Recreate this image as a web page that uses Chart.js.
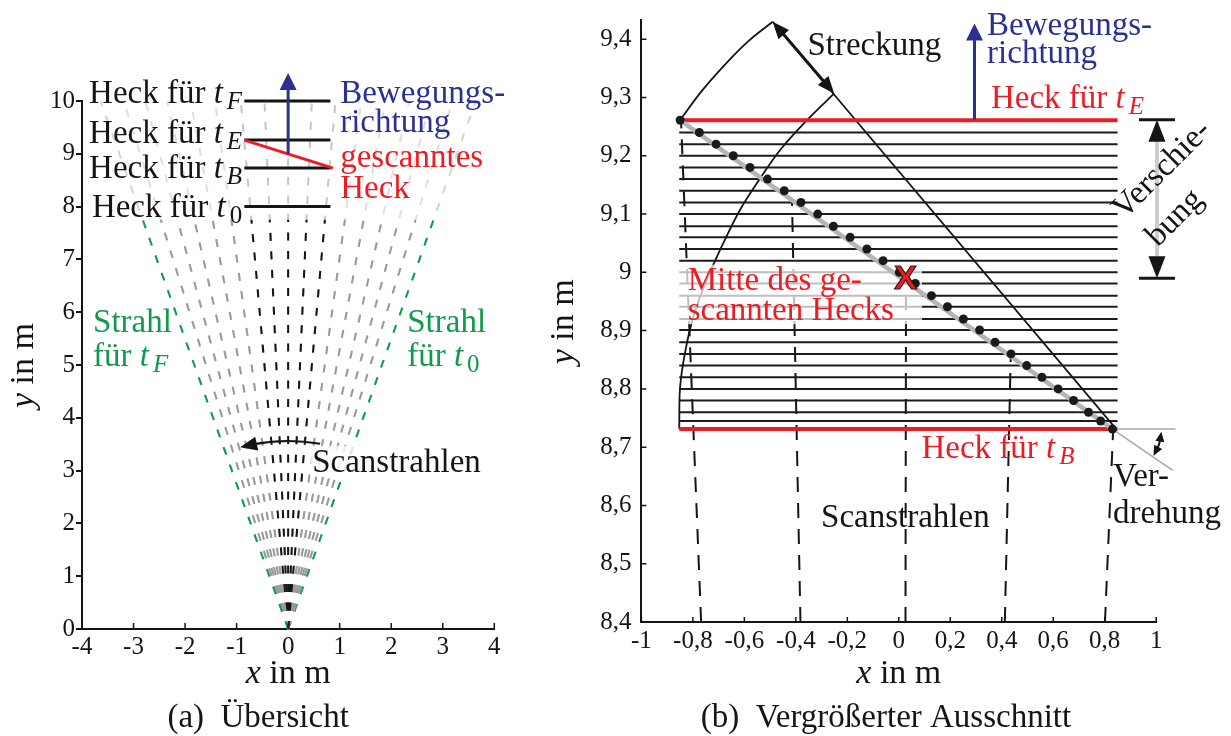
<!DOCTYPE html>
<html>
<head>
<meta charset="utf-8">
<script src="https://cdn.jsdelivr.net/npm/chart.js@4.4.1/dist/chart.umd.min.js"></script>
<style>
html, body { margin: 0; padding: 0; background: #fff; }
#wrap { position: relative; width: 1231px; height: 736px; overflow: hidden; }
#chartA { position: absolute; left: 0; top: 0; }
#chartB { position: absolute; left: 530px; top: 0; }
</style>
</head>
<body>
<div id="wrap">
  <canvas id="chartA" width="530" height="736"></canvas>
  <canvas id="chartB" width="701" height="736"></canvas>
</div>
<script>
const FONT = '"Liberation Serif", "Times New Roman", serif';
const RED = '#ec1c24';
const BLUE = '#2b3192';
const GREEN = '#119a4c';
const INK = '#151515';

// ---- (a) Übersicht ----
const raySlopesA = [-0.364, -0.319, -0.277, -0.235, -0.189, -0.142, -0.092, -0.046, 0, 0.046, 0.092, 0.142, 0.189, 0.235, 0.277, 0.319, 0.364];
const rayKindsA = ['green', 'gray', 'gray', 'gray', 'gray', 'gray', 'black', 'black', 'black', 'black', 'black', 'gray', 'gray', 'gray', 'gray', 'gray', 'green'];
const rayFadeYA = 7.75;
const rayEndYA = 10;
const heckYA = [10, 9.26, 8.73, 8.0];
const heckSubA = ['F', 'E', 'B', '0'];
const heckXA = [-0.85, 0.82];
const scannedXA = [-0.85, 0.87];
const scannedYA = [9.26, 8.73];
const xTicksA = [-4, -3, -2, -1, 0, 1, 2, 3, 4];
const yTicksA = [0, 1, 2, 3, 4, 5, 6, 7, 8, 9, 10];

// ---- (b) Vergrößerter Ausschnitt ----
const dotsXB = [-0.849, -0.775, -0.710, -0.643, -0.578, -0.510, -0.445, -0.380, -0.315, -0.254, -0.189, -0.124, -0.061, 0.002,
                0.064, 0.127, 0.189, 0.251, 0.314, 0.374, 0.436, 0.497, 0.556, 0.619, 0.679, 0.737, 0.784, 0.830];
const dotsYB = [9.261, 9.240, 9.220, 9.200, 9.180, 9.160, 9.140, 9.120, 9.100, 9.079, 9.060, 9.040, 9.020, 9.000,
                8.981, 8.960, 8.941, 8.920, 8.901, 8.880, 8.860, 8.840, 8.820, 8.800, 8.780, 8.760, 8.745, 8.731];
const heckXB = [-0.853, 0.85];
const rayBottomXB = [-0.768, -0.382, 0.026, 0.412, 0.801];
const rayTopXB = [-0.846, -0.415, 0.028, 0.435, 0.833];
const rayTopYB = [9.26, 9.125, 8.986, 8.858, 8.733];
const upperArcXB = [-0.850, -0.762, -0.659, -0.581, -0.490];
const upperArcYB = [9.261, 9.313, 9.364, 9.398, 9.430];
const lowerArcXB = [-0.853, -0.850, -0.831, -0.798, -0.746, -0.682, -0.617, -0.539, -0.461, -0.357, -0.251];
const lowerArcYB = [8.731, 8.801, 8.861, 8.924, 8.987, 9.050, 9.107, 9.161, 9.210, 9.261, 9.307];
const radialXB = [-0.490, 0.845];
const radialYB = [9.430, 8.731];
const diagXB = [-0.865, 0.83];
const diagYB = [9.266, 8.731];
const twistXB = [0.83, 1.064];
const twistYB = [8.731, 8.66];
const levelXB = [0.83, 1.075];
const levelYB = [8.731, 8.731];
const xTicksB = [-1, -0.8, -0.6, -0.4, -0.2, 0, 0.2, 0.4, 0.6, 0.8, 1];
const xLabelsB = ['-1', '-0,8', '-0,6', '-0,4', '-0,2', '0', '0,2', '0,4', '0,6', '0,8', '1'];
const yTicksB = [8.4, 8.5, 8.6, 8.7, 8.8, 8.9, 9.0, 9.1, 9.2, 9.3, 9.4];
const yLabelsB = ['8,4', '8,5', '8,6', '8,7', '8,8', '8,9', '9', '9,1', '9,2', '9,3', '9,4'];

// ---------- helpers ----------
const pts = (xs, ys) => xs.map((x, i) => ({x: x, y: ys[i]}));
function line(xs, ys, color, width, extra) {
    return Object.assign({
        data: pts(xs, ys), borderColor: color, borderWidth: width,
        pointRadius: 0, showLine: true, clip: false, tension: 0, fill: false
    }, extra || {});
}
function font(size, italic, bold, fam) {
    return (italic ? 'italic ' : '') + (bold ? 'bold ' : '') + size + 'px ' + (fam || FONT);
}
// parts: [text, style] with style '' upright, 'i' italic, 's' subscript, 'si' italic subscript
function rich(ctx, parts, x, y, size, color, align, baseline) {
    const specs = parts.map((p, k) => {
        const sub = p[1].startsWith('s');
        const f = font(sub ? Math.round(size * 0.76) : size, p[1].endsWith('i'));
        ctx.font = f;
        // small italic correction before a subscript
        const next = parts[k + 1];
        const gap = (p[1] === 'i' && next && next[1].startsWith('s')) ? size * 0.12 : 0;
        return {t: p[0], f: f, dy: sub ? size * 0.17 : 0, w: ctx.measureText(p[0]).width + gap};
    });
    const total = specs.reduce((s, p) => s + p.w, 0);
    let cx = align === 'right' ? x - total : (align === 'center' ? x - total / 2 : x);
    ctx.fillStyle = color;
    ctx.textAlign = 'left';
    ctx.textBaseline = baseline || 'alphabetic';
    specs.forEach(p => { ctx.font = p.f; ctx.fillText(p.t, cx, y + p.dy); cx += p.w; });
}
function rotText(ctx, parts, x, y, size, color, deg, align, baseline) {
    ctx.save();
    ctx.translate(x, y);
    ctx.rotate(deg * Math.PI / 180);
    rich(ctx, parts, 0, 0, size, color, align, baseline);
    ctx.restore();
}
function head(ctx, from, tip, len, wid, color) {
    const a = Math.atan2(tip[1] - from[1], tip[0] - from[0]);
    ctx.save();
    ctx.translate(tip[0], tip[1]);
    ctx.rotate(a);
    ctx.beginPath();
    ctx.moveTo(0, 0);
    ctx.lineTo(-len, wid / 2);
    ctx.lineTo(-len, -wid / 2);
    ctx.closePath();
    ctx.fillStyle = color;
    ctx.fill();
    ctx.restore();
}
function arrow(ctx, a, b, o) {
    const ang = Math.atan2(b[1] - a[1], b[0] - a[0]);
    const ux = Math.cos(ang), uy = Math.sin(ang);
    const s = o.both ? [a[0] + ux * o.len * 0.8, a[1] + uy * o.len * 0.8] : a;
    const e = [b[0] - ux * o.len * 0.8, b[1] - uy * o.len * 0.8];
    ctx.strokeStyle = o.shaft || o.color;
    ctx.lineWidth = o.width;
    ctx.beginPath();
    ctx.moveTo(s[0], s[1]);
    ctx.lineTo(e[0], e[1]);
    ctx.stroke();
    head(ctx, a, b, o.len, o.wid, o.color);
    if (o.both) head(ctx, b, a, o.len, o.wid, o.color);
}
function inwardTicks(chart, xs, ys, len) {
    const ctx = chart.ctx, ca = chart.chartArea;
    ctx.strokeStyle = INK;
    ctx.lineWidth = 1.5;
    ctx.beginPath();
    xs.forEach(v => { const p = chart.scales.x.getPixelForValue(v); ctx.moveTo(p, ca.bottom); ctx.lineTo(p, ca.bottom - len); });
    ys.forEach(v => { const p = chart.scales.y.getPixelForValue(v); ctx.moveTo(ca.left, p); ctx.lineTo(ca.left + len, p); });
    ctx.stroke();
}
function scaleOpts(cfg) {
    return {
        type: 'linear', min: cfg.min, max: cfg.max,
        afterBuildTicks: s => { s.ticks = cfg.ticks.map(v => ({value: v})); },
        afterFit: s => {
            if (cfg.width) s.width = cfg.width;
            if (cfg.height) s.height = cfg.height;
            s.paddingLeft = 0; s.paddingRight = 0; s.paddingTop = 0; s.paddingBottom = 0;
        },
        grid: cfg.outTicks
            ? {display: true, drawOnChartArea: false, drawTicks: true, tickLength: 6, color: INK, lineWidth: 2}
            : {display: false, drawTicks: false},
        border: {display: true, color: INK, width: 2},
        ticks: {
            autoSkip: false, maxRotation: 0, padding: cfg.pad, color: INK,
            font: {family: FONT, size: 25},
            callback: (v, i) => cfg.labels[i]
        }
    };
}

// ---------- chart (a) ----------
const rayColors = {black: ['#141414', '#c6c6c6'], gray: ['#9a9a9a', '#dedede'], green: [GREEN, '#bde0c9']};
const dsA = [];
raySlopesA.forEach((k, i) => {
    const c = rayColors[rayKindsA[i]];
    dsA.push(line([0, k * rayEndYA], [0, rayEndYA], c[1], 2, {borderDash: [8, 10.5], order: 30}));
    dsA.push(line([0, k * rayFadeYA], [0, rayFadeYA], c[0], 2, {borderDash: [8, 10.5], order: 29}));
});
heckYA.forEach(y => dsA.push(line(heckXA, [y, y], INK, 3, {order: 5})));
dsA.push(line(scannedXA, scannedYA, RED, 3, {order: 4}));

const annotA = {
    id: 'annotA',
    afterDatasetsDraw(chart) {
        const ctx = chart.ctx;
        const P = (x, y) => [chart.scales.x.getPixelForValue(x), chart.scales.y.getPixelForValue(y)];
        ctx.save();
        inwardTicks(chart, xTicksA, [], 6);

        // light patch behind the label of the scan rays
        const b0 = P(0.43, 3.47), b1 = P(3.5, 2.88);
        ctx.fillStyle = 'rgba(255,255,255,0.8)';
        ctx.fillRect(b0[0], b0[1], b1[0] - b0[0], b1[1] - b0[1]);

        // curved arrow around the scanner
        const o = P(0, 0);
        const r = o[1] - P(0, 3.56)[1];
        const a0 = (-90 + 9.8) * Math.PI / 180, a1 = (-90 - 14.8) * Math.PI / 180;
        ctx.strokeStyle = INK;
        ctx.lineWidth = 2;
        ctx.beginPath();
        ctx.arc(o[0], o[1], r, a0, a1 + 0.06, true);
        ctx.stroke();
        const tip = [o[0] + r * Math.cos(a1), o[1] + r * Math.sin(a1)];
        const pre = [o[0] + r * Math.cos(a1 + 0.08), o[1] + r * Math.sin(a1 + 0.08)];
        head(ctx, pre, tip, 17, 14, INK);

        // motion arrow
        arrow(ctx, P(0, 9.0), P(0, 10.53), {color: BLUE, width: 3, len: 17, wid: 17});

        // labels
        const heckLabelY = [9.962, 9.205, 8.542, 7.803];
        heckSubA.forEach((s, i) => {
            const p = P(-0.893, heckLabelY[i]);
            rich(ctx, [['Heck für ', ''], ['t', 'i'], [s, s === '0' ? 's' : 'si']], p[0], p[1], 33, INK, 'right');
        });
        let p = P(1.01, 9.962); rich(ctx, [['Bewegungs-', '']], p[0], p[1], 33, BLUE);
        p = P(1.01, 9.413); rich(ctx, [['richtung', '']], p[0], p[1], 33, BLUE);
        p = P(1.01, 8.75); rich(ctx, [['gescanntes', '']], p[0], p[1], 33, RED);
        p = P(1.01, 8.163); rich(ctx, [['Heck', '']], p[0], p[1], 33, RED);
        p = P(-3.786, 5.625); rich(ctx, [['Strahl', '']], p[0], p[1], 33, GREEN);
        p = P(-3.786, 4.981); rich(ctx, [['für ', ''], ['t', 'i'], ['F', 'si']], p[0], p[1], 33, GREEN);
        p = P(2.311, 5.625); rich(ctx, [['Strahl', '']], p[0], p[1], 33, GREEN);
        p = P(2.311, 4.981); rich(ctx, [['für ', ''], ['t', 'i'], ['0', 's']], p[0], p[1], 33, GREEN);
        p = P(0.466, 2.973); rich(ctx, [['Scanstrahlen', '']], p[0], p[1], 33, INK);

        // axis titles and caption
        p = P(0, -1.023); rich(ctx, [['x', 'i'], [' in m', '']], p[0], p[1], 34, INK, 'center');
        p = P(-4.951, 4.991); rotText(ctx, [['y', 'i'], [' in m', '']], p[0], p[1], 34, INK, -90, 'center');
        p = P(-0.583, -1.856); rich(ctx, [['(a)\u2002Übersicht', '']], p[0], p[1], 33, INK, 'center');
        ctx.restore();
    }
};

new Chart(document.getElementById('chartA'), {
    type: 'line',
    data: {datasets: dsA},
    options: {
        responsive: false, animation: false, events: [],
        layout: {padding: {left: 0, top: 101, right: 35.7, bottom: 0}},
        plugins: {legend: {display: false}, tooltip: {enabled: false}},
        scales: {
            x: scaleOpts({min: -4, max: 4, ticks: xTicksA, labels: xTicksA.map(String), height: 107, pad: 3}),
            y: scaleOpts({min: 0, max: 10, ticks: yTicksA, labels: yTicksA.map(String), width: 82, pad: 1, outTicks: true})
        }
    },
    plugins: [annotA]
});

// ---------- chart (b) ----------
const dsB = [];
rayBottomXB.forEach((x, i) => dsB.push(line([x, rayTopXB[i]], [8.4, rayTopYB[i]], INK, 2, {borderDash: [15, 11], order: 12})));
dotsYB.slice(1, -1).forEach(y => dsB.push(line(heckXB, [y, y], '#1c1c1c', 2, {order: 10})));
dsB.push(line(upperArcXB, upperArcYB, INK, 1.8, {tension: 0.35, order: 9}));
dsB.push(line(lowerArcXB, lowerArcYB, INK, 1.8, {tension: 0.35, order: 9}));
dsB.push(line(radialXB, radialYB, INK, 1.8, {order: 9}));
dsB.push(line(heckXB, [dotsYB[0], dotsYB[0]], RED, 4, {order: 7}));
dsB.push(line(heckXB, [dotsYB[dotsYB.length - 1], dotsYB[dotsYB.length - 1]], RED, 4, {order: 7}));
dsB.push(line(twistXB, twistYB, '#a8a8a8', 1.5, {order: 6}));
dsB.push(line(levelXB, levelYB, '#a8a8a8', 1.5, {order: 6}));
dsB.push(line(diagXB, diagYB, '#b5b5b5', 4.5, {order: 5, label: 'diagonal'}));
dsB.push({data: pts(dotsXB, dotsYB), showLine: false, pointRadius: 4.5, pointBorderWidth: 0,
          pointBackgroundColor: '#1a1a1a', borderColor: '#1a1a1a', clip: false, order: 1});

const annotB = {
    id: 'annotB',
    beforeDatasetDraw(chart, args) {
        if (chart.data.datasets[args.index].label !== 'diagonal') return;
        const ctx = chart.ctx;
        const x0 = chart.scales.x.getPixelForValue(-0.858), x1 = chart.scales.x.getPixelForValue(0.09);
        const y0 = chart.scales.y.getPixelForValue(9.013), y1 = chart.scales.y.getPixelForValue(8.911);
        ctx.save();
        ctx.fillStyle = 'rgba(255,255,255,0.72)';
        ctx.fillRect(x0, y0, x1 - x0, y1 - y0);
        ctx.restore();
    },
    afterDatasetsDraw(chart) {
        const ctx = chart.ctx;
        const P = (x, y) => [chart.scales.x.getPixelForValue(x), chart.scales.y.getPixelForValue(y)];
        ctx.save();
        inwardTicks(chart, xTicksB, yTicksB, 5);

        // stretching
        arrow(ctx, P(-0.49, 9.43), P(-0.251, 9.307), {color: INK, width: 3, len: 17, wid: 14, both: true});
        // motion direction
        arrow(ctx, P(0.294, 9.262), P(0.294, 9.427), {color: BLUE, width: 3, len: 17, wid: 17});

        // displacement
        const top = P(1.003, 9.262), bot = P(1.003, 8.99);
        arrow(ctx, bot, top, {color: INK, shaft: '#cfcfcf', width: 4, len: 22, wid: 17, both: true});
        ctx.strokeStyle = INK;
        ctx.lineWidth = 3;
        ctx.beginPath();
        ctx.moveTo(top[0] - 18, top[1]); ctx.lineTo(top[0] + 18, top[1]);
        ctx.moveTo(bot[0] - 18, bot[1]); ctx.lineTo(bot[0] + 18, bot[1]);
        ctx.stroke();

        // twist
        const v = P(0.83, 8.731);
        const r = 49, t0 = 3 * Math.PI / 180, t1 = 33 * Math.PI / 180;
        ctx.lineWidth = 2;
        ctx.beginPath();
        ctx.arc(v[0], v[1], r, t0 + 0.12, t1 - 0.12);
        ctx.stroke();
        const pa = t => [v[0] + r * Math.cos(t), v[1] + r * Math.sin(t)];
        head(ctx, pa(t0 + 0.2), pa(t0), 10, 9, INK);
        head(ctx, pa(t1 - 0.2), pa(t1), 10, 9, INK);

        // centre of the scanned rear
        const xm = P(0.026, 8.99);
        ctx.font = font(34, false, true, '"Liberation Sans", Arial, sans-serif');
        ctx.textAlign = 'center';
        ctx.textBaseline = 'middle';
        ctx.fillStyle = RED;
        ctx.fillText('X', xm[0], xm[1] + 1);
        ctx.strokeStyle = '#3a1414';
        ctx.lineWidth = 1.2;
        ctx.strokeText('X', xm[0], xm[1] + 1);

        // labels
        let p = P(0.343, 9.407); rich(ctx, [['Bewegungs-', '']], p[0], p[1], 33, BLUE);
        p = P(0.343, 9.359); rich(ctx, [['richtung', '']], p[0], p[1], 33, BLUE);
        p = P(0.358, 9.282); rich(ctx, [['Heck für ', ''], ['t', 'i'], ['E', 'si']], p[0], p[1], 33, RED);
        p = P(-0.355, 9.373); rich(ctx, [['Streckung', '']], p[0], p[1], 33, INK);
        p = P(-0.82, 8.970); rich(ctx, [['Mitte des ge-', '']], p[0], p[1], 33, RED);
        p = P(-0.82, 8.918); rich(ctx, [['scannten Hecks', '']], p[0], p[1], 33, RED);
        p = P(0.088, 8.681); rich(ctx, [['Heck für ', ''], ['t', 'i'], ['B', 'si']], p[0], p[1], 33, RED);
        p = P(-0.302, 8.563); rich(ctx, [['Scanstrahlen', '']], p[0], p[1], 33, INK);
        p = P(0.832, 8.633); rich(ctx, [['Ver-', '']], p[0], p[1], 33, INK);
        p = P(0.832, 8.570); rich(ctx, [['drehung', '']], p[0], p[1], 33, INK);
        p = P(1.023, 9.176); rotText(ctx, [['Verschie-', '']], p[0], p[1], 33, INK, -45, 'center', 'middle');
        p = P(1.073, 9.093); rotText(ctx, [['bung', '']], p[0], p[1], 33, INK, -45, 'center', 'middle');

        // axis titles and caption
        p = P(0, 8.295); rich(ctx, [['x', 'i'], [' in m', '']], p[0], p[1], 34, INK, 'center');
        p = P(-1.266, 8.915); rotText(ctx, [['y', 'i'], [' in m', '']], p[0], p[1], 34, INK, -90, 'center');
        p = P(-0.05, 8.220); rich(ctx, [['(b)\u2002Vergrößerter Ausschnitt', '']], p[0], p[1], 33, INK, 'center');
        ctx.restore();
    }
};

new Chart(document.getElementById('chartB'), {
    type: 'line',
    data: {datasets: dsB},
    options: {
        responsive: false, animation: false, events: [],
        layout: {padding: {left: 0, top: 20, right: 74.8, bottom: 0}},
        plugins: {legend: {display: false}, tooltip: {enabled: false}},
        scales: {
            x: scaleOpts({min: -1, max: 1, ticks: xTicksB, labels: xLabelsB, height: 114, pad: 4}),
            y: scaleOpts({min: 8.4, max: 9.433, ticks: yTicksB, labels: yLabelsB, width: 111.4, pad: 10})
        }
    },
    plugins: [annotB]
});
</script>
</body>
</html>
